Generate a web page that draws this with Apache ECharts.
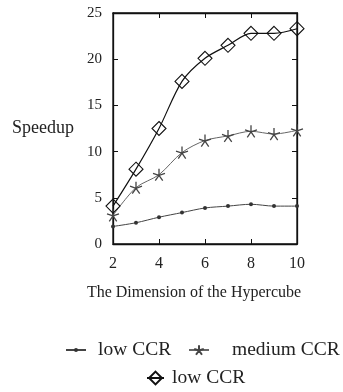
<!DOCTYPE html>
<html>
<head>
<meta charset="utf-8">
<script src="https://cdn.jsdelivr.net/npm/echarts@6/dist/echarts.min.js"></script>
<style>html,body{margin:0;padding:0;background:#fff}#c{width:343px;height:392px}</style>
</head>
<body>
<div id="c"></div>
<script>
var dims = [2, 3, 4, 5, 6, 7, 8, 9, 10];
var lowCCR = [1.9, 2.3, 2.9, 3.4, 3.9, 4.1, 4.3, 4.1, 4.1];
var mediumCCR = [3.1, 6.1, 7.5, 9.9, 11.2, 11.7, 12.2, 11.9, 12.3];
var diamondCCR = [4.1, 8.1, 12.5, 17.6, 20.1, 21.5, 22.8, 22.8, 23.3];
var yTicks = [0, 5, 10, 15, 20, 25];
var xTicks = [2, 4, 6, 8, 10];

function pairs(vals) { return dims.map(function (d, i) { return [d, vals[i]]; }); }

var FONT = '"Liberation Serif", "DejaVu Serif", serif';
var starPath = 'path://M0,-10L0,0M9.5,-3.1L0,0M5.9,8.1L0,0M-5.9,8.1L0,0M-9.5,-3.1L0,0';
var diamondPath = 'path://M0,-10L10,0L0,10L-10,0Z';

var chart = echarts.init(document.getElementById('c'), null, { renderer: 'canvas' });
function axisCommon() {
  return {
    show: true,
    axisLine: { show: true, onZero: false, lineStyle: { color: '#111', width: 1.3 } },
    axisTick: { show: true, inside: true, length: 5, lineStyle: { color: '#111' } },
    splitLine: { show: false }
  };
}
var legendText = { fontFamily: FONT, fontSize: 19.5, color: '#222' };
chart.setOption({
  animation: false,
  backgroundColor: '#fff',
  grid: { left: 113, right: 46, top: 13, bottom: 148, show: true, borderColor: '#111', borderWidth: 1.3, backgroundColor: 'rgba(0,0,0,0)' },
  xAxis: [
    Object.assign(axisCommon(), {
      type: 'value', min: xTicks[0], max: xTicks[xTicks.length - 1], interval: 2,
      name: 'The Dimension of the Hypercube', nameLocation: 'middle', nameGap: 41,
      nameTextStyle: { fontFamily: FONT, fontSize: 16, color: '#222', padding: [0, 22, 0, 0] },
      axisLabel: { fontFamily: FONT, fontSize: 16, color: '#222', margin: 12 }
    }),
    Object.assign(axisCommon(), {
      type: 'value', position: 'top', min: xTicks[0], max: xTicks[xTicks.length - 1], interval: 2,
      axisLabel: { show: false }
    })
  ],
  yAxis: [
    Object.assign(axisCommon(), {
      type: 'value', min: yTicks[0], max: yTicks[yTicks.length - 1], interval: 5,
      name: 'Speedup', nameLocation: 'middle', nameRotate: 0, nameGap: 39,
      nameTextStyle: { fontFamily: FONT, fontSize: 18, color: '#222', padding: [0, 0, 19, 0] },
      axisLabel: { fontFamily: FONT, fontSize: 15, color: '#222', margin: 11 }
    }),
    Object.assign(axisCommon(), {
      type: 'value', position: 'right', min: yTicks[0], max: yTicks[yTicks.length - 1], interval: 5,
      axisLabel: { show: false }
    })
  ],
  legend: [
    {
      left: 65, top: 340, padding: 0, itemWidth: 20, itemHeight: 5,
      data: ['low CCR'],
      textStyle: Object.assign({ padding: [0, 0, 0, 7] }, legendText)
    },
    {
      left: 188, top: 340, padding: 0, itemWidth: 20, itemHeight: 12,
      data: ['medium CCR'],
      textStyle: Object.assign({ padding: [0, 0, 0, 18] }, legendText)
    },
    {
      left: 146, top: 368, padding: 0, itemWidth: 17, itemHeight: 16,
      data: ['low CCR '],
      textStyle: Object.assign({ padding: [0, 0, 0, 3] }, legendText)
    }
  ],
  series: [
    {
      name: 'low CCR', type: 'line', smooth: 0.3, data: pairs(lowCCR),
      symbol: 'circle', symbolSize: 4,
      lineStyle: { color: '#444', width: 1 },
      itemStyle: { color: '#333' }
    },
    {
      name: 'medium CCR', type: 'line', smooth: 0.3, data: pairs(mediumCCR),
      symbol: starPath, symbolSize: 12,
      lineStyle: { color: '#666', width: 1 },
      itemStyle: { color: 'rgba(0,0,0,0)', borderColor: '#444', borderWidth: 1.3 }
    },
    {
      name: 'low CCR ', type: 'line', smooth: 0.3, data: pairs(diamondCCR),
      symbol: diamondPath, symbolSize: 14,
      lineStyle: { color: '#111', width: 1.2 },
      itemStyle: { color: 'rgba(0,0,0,0)', borderColor: '#111', borderWidth: 1.1 }
    },
    {
      name: 'frame', type: 'line', xAxisIndex: 1, yAxisIndex: 1, data: [],
      showSymbol: false, silent: true
    }
  ]
});
</script>
</body>
</html>
